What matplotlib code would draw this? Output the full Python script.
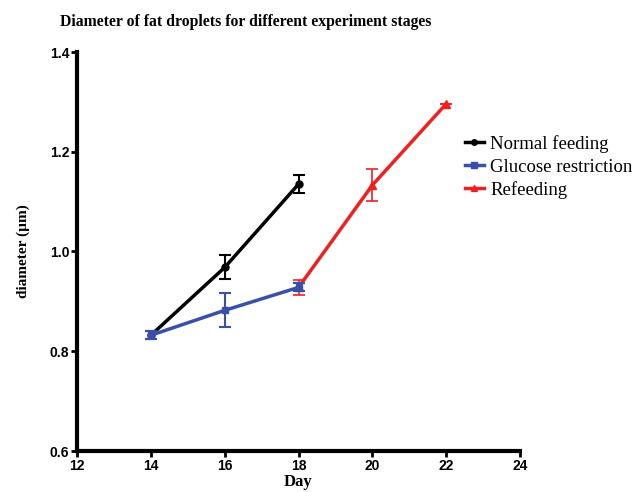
import matplotlib
matplotlib.use("Agg")
import matplotlib.pyplot as plt
from matplotlib.lines import Line2D

days_normal = [14, 16, 18]
normal = [0.832, 0.968, 1.135]
normal_err = [0.008, 0.024, 0.018]

days_glucose = [14, 16, 18]
glucose = [0.832, 0.882, 0.928]
glucose_err = [0.008, 0.034, 0.008]

days_refeed = [18, 20, 22]
refeed = [0.928, 1.133, 1.296]
refeed_err = [0.015, 0.032, 0.0]

xticks = [12, 14, 16, 18, 20, 22, 24]
yticks = [0.6, 0.8, 1.0, 1.2, 1.4]

fig = plt.figure(figsize=(6.38, 4.92), dpi=100)
ax = fig.add_axes([77/638, 1-451/492, (520-77)/638, (451-52)/492])

ax.errorbar(days_normal, normal, yerr=normal_err, color='black', lw=2.5,
            marker='o', ms=5, capsize=4, elinewidth=1.5, capthick=1.5, zorder=3)
ax.errorbar(days_refeed, refeed, yerr=refeed_err, color='#f02020', lw=2.5,
            marker='^', ms=6, capsize=4, elinewidth=1.2, capthick=1.2, zorder=2)
ax.errorbar(days_glucose, glucose, yerr=glucose_err, color='#3a50a8', lw=2.5,
            marker='s', ms=5, capsize=4, elinewidth=1.5, capthick=1.5, zorder=4)

ax.set_xlim(12, 24)
ax.set_ylim(0.6, 1.4)
ax.set_xticks(xticks)
ax.set_yticks(yticks)
ax.set_yticklabels(['%.1f' % v for v in yticks])
for s in ['top', 'right']:
    ax.spines[s].set_visible(False)
for s in ['left', 'bottom']:
    ax.spines[s].set_linewidth(3)
ax.tick_params(width=2, length=4, pad=1.5)
for lab in ax.get_xticklabels() + ax.get_yticklabels():
    lab.set_fontfamily('Liberation Sans')
    lab.set_fontweight('bold')
    lab.set_fontsize(10)

ax.set_xlabel('Day', fontfamily='Liberation Serif', fontweight='bold', fontsize=12, labelpad=1)
ax.set_ylabel('diameter (\u00b5m)', fontfamily='Liberation Serif', fontweight='bold', fontsize=11, labelpad=14)
fig.text(60/638, 1-22/492, 'Diameter of fat droplets for different experiment stages',
         fontfamily='Liberation Serif', fontweight='bold', fontsize=11.3, va='center', ha='left')

handles = [
    Line2D([], [], color='black', lw=2.5, marker='o', ms=4),
    Line2D([], [], color='#3a50a8', lw=2.5, marker='s', ms=4),
    Line2D([], [], color='#f02020', lw=2.5, marker='^', ms=5),
]
labels = ['Normal feeding', 'Glucose restriction', 'Refeeding']
fig.legend(handles, labels, loc='upper left', bbox_to_anchor=(448/638, 1-118/492),
           frameon=False, handlelength=1.0, handletextpad=0.35,
           prop={'family': 'Liberation Serif', 'size': 13.5}, labelspacing=0.3)

fig.savefig('out.png', dpi=100)
